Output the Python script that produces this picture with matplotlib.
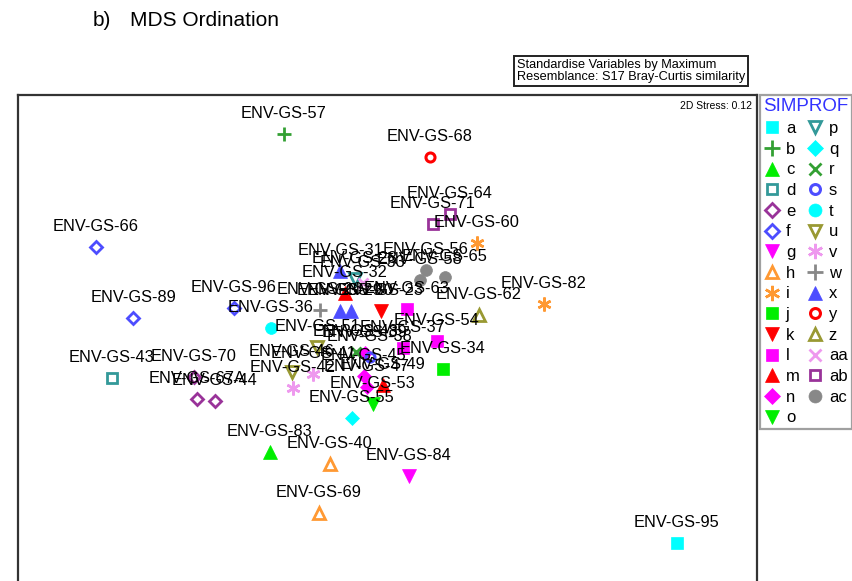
import matplotlib
matplotlib.use("Agg")
import matplotlib.pyplot as plt
from matplotlib.lines import Line2D

plt.rcParams['font.family'] = ['Liberation Sans', 'DejaVu Sans']

# --- MDS ordination scores (MDS1, MDS2) with sample names and SIMPROF groups ---
samples = [
    "ENV-GS-95", "ENV-GS-57", "ENV-GS-83", "ENV-GS-43", "ENV-GS-70", "ENV-GS-67A",
    "ENV-GS-44", "ENV-GS-66", "ENV-GS-89", "ENV-GS-96", "ENV-GS-84", "ENV-GS-40",
    "ENV-GS-69", "ENV-GS-82", "ENV-GS-60", "ENV-GS-34", "ENV-GS-23", "ENV-GS-63",
    "ENV-GS-54", "ENV-GS-37", "ENV-GS-49", "ENV-GS-32", "ENV-GS-39", "ENV-GS-45",
    "ENV-GS-47", "ENV-GS-53", "ENV-GS-28", "ENV-GS-55", "ENV-GS-48", "ENV-GS-38",
    "ENV-GS-36", "ENV-GS-51", "ENV-GS-46", "ENV-GS-42", "ENV-GS-41", "ENV-GS-26",
    "ENV-GS-31", "ENV-GS-29", "ENV-GS-30", "ENV-GS-68", "ENV-GS-62", "ENV-GS-33",
    "ENV-GS-64", "ENV-GS-71", "ENV-GS-56", "ENV-GS-58", "ENV-GS-65",
]
groups = [
    "a", "b", "c", "d", "e", "e",
    "e", "f", "f", "f", "g", "h",
    "h", "i", "i", "j", "k", "l",
    "l", "l", "m", "m", "n", "n",
    "n", "o", "p", "q", "r", "s",
    "t", "u", "u", "v", "v", "w",
    "x", "x", "x", "y", "z", "aa",
    "ab", "ab", "ac", "ac", "ac",
]
mds1 = [
    2.77, -1.16, -1.30, -2.88, -2.06, -2.03,
    -1.85, -3.04, -2.67, -1.66, 0.09, -0.70,
    -0.81, 1.44, 0.77, 0.43, -0.19, 0.07,
    0.37, 0.03, -0.17, -0.55, -0.35, -0.36,
    -0.33, -0.27, -0.45, -0.48, -0.44, -0.30,
    -1.29, -0.83, -1.08, -1.07, -0.87, -0.80,
    -0.60, -0.60, -0.49, 0.30, 0.79, -0.37,
    0.50, 0.33, 0.26, 0.20, 0.45,
]
mds2 = [
    -2.43, 1.66, -1.52, -0.78, -0.77, -0.99,
    -1.01, 0.53, -0.18, -0.08, -1.76, -1.64,
    -2.13, -0.04, 0.57, -0.69, -0.11, -0.09,
    -0.41, -0.48, -0.85, 0.07, -0.53, -0.76,
    -0.87, -1.04, 0.21, -1.18, -0.52, -0.57,
    -0.28, -0.47, -0.72, -0.88, -0.74, -0.10,
    0.29, -0.11, -0.11, 1.43, -0.15, 0.17,
    0.86, 0.76, 0.30, 0.20, 0.23,
]
group_order = ["a", "b", "c", "d", "e", "f", "g", "h", "i", "j", "k", "l", "m", "n", "o",
               "p", "q", "r", "s", "t", "u", "v", "w", "x", "y", "z", "aa", "ab", "ac"]
stress = 0.12

# --- symbol styles for each SIMPROF group ---
CYAN, GREEN, LGREEN, TEAL = "#00FFFF", "#33A033", "#00EE00", "#339999"
PURPLE, BLUE, MAGENTA, ORANGE = "#993399", "#4D4DFF", "#FF00FF", "#FF9933"
RED, OLIVE, PINK, GRAY = "#FF0000", "#999933", "#EE99EE", "#888888"
ASTER = (6, 2, 0)


def filled(marker, color, ms):
    return dict(marker=marker, mfc=color, mec=color, ms=ms, mew=0.5)


def hollow(marker, color, ms, mew=2.0):
    return dict(marker=marker, mfc="none", mec=color, ms=ms, mew=mew)


def lined(marker, color, ms, mew=2.0):
    return dict(marker=marker, mfc=color, mec=color, ms=ms, mew=mew)


styles = {
    "a": filled("s", CYAN, 8.5),
    "b": lined("+", GREEN, 10),
    "c": filled("^", LGREEN, 9.5),
    "d": hollow("s", TEAL, 6.5),
    "e": hollow("D", PURPLE, 6.5),
    "f": hollow("D", BLUE, 6.5),
    "g": filled("v", MAGENTA, 9.5),
    "h": hollow("^", ORANGE, 8),
    "i": lined(ASTER, ORANGE, 10, 1.8),
    "j": filled("s", LGREEN, 8.5),
    "k": filled("v", RED, 9.5),
    "l": filled("s", MAGENTA, 8.5),
    "m": filled("^", RED, 9.5),
    "n": filled("D", MAGENTA, 7.5),
    "o": filled("v", LGREEN, 9.5),
    "p": hollow("v", TEAL, 8),
    "q": filled("D", CYAN, 7.5),
    "r": lined("x", GREEN, 7.5),
    "s": hollow("o", BLUE, 6.5, 2.2),
    "t": filled("o", CYAN, 8.5),
    "u": hollow("v", OLIVE, 8),
    "v": lined(ASTER, PINK, 10, 1.8),
    "w": lined("+", GRAY, 10),
    "x": filled("^", BLUE, 9.5),
    "y": hollow("o", RED, 6.5, 2.2),
    "z": hollow("^", OLIVE, 8),
    "aa": lined("x", PINK, 7.5),
    "ab": hollow("s", PURPLE, 6.5),
    "ac": filled("o", GRAY, 8.5),
}

W, H = 853, 581
fig = plt.figure(figsize=(W / 100, H / 100), dpi=100)

# plot frame (runs off the bottom of the page)
ax = fig.add_axes([18 / W, 1 - 600 / H, (757 - 18) / W, (600 - 95) / H])
ax.set_xlim(-3.82, 3.57)
ax.set_ylim(-3.00, 2.05)
ax.set_xticks([])
ax.set_yticks([])
for sp in ax.spines.values():
    sp.set_color("#333333")
    sp.set_linewidth(1.6)

for name, g, x, y in zip(samples, groups, mds1, mds2):
    ax.plot([x], [y], linestyle="none", zorder=2, clip_on=False, **styles[g])
for name, g, x, y in zip(samples, groups, mds1, mds2):
    ax.annotate(name, (x, y), xytext=(0, 14.5), textcoords="offset points",
                ha="center", va="center", fontsize=11.8, color="black", zorder=3)

ax.text(0.9932, 0.978, f"2D Stress: {stress:.2f}", transform=ax.transAxes,
        ha="right", va="center", fontsize=7.5)

# title
fig.text(93 / W, 1 - 20 / H, "b)", fontsize=15, va="center", ha="left")
fig.text(130 / W, 1 - 20 / H, "MDS Ordination", fontsize=15, va="center", ha="left")

# analysis notes box
fig.text(517 / W, 1 - 71 / H,
         "Standardise Variables by Maximum\nResemblance: S17 Bray-Curtis similarity",
         fontsize=9.2, ha="left", va="center", linespacing=1.05,
         bbox=dict(boxstyle="square,pad=0.2", fc="white", ec="#222222", lw=1.4))

# SIMPROF legend
handles = [Line2D([], [], linestyle="none", **styles[g]) for g in group_order]
leg = fig.legend(handles, group_order, ncol=2, loc="upper left",
                 bbox_to_anchor=(760 / W, 1 - 95 / H), borderaxespad=0,
                 title="SIMPROF", alignment="left", fontsize=12,
                 title_fontproperties={"size": 13.5},
                 frameon=True, fancybox=False, edgecolor="#888888",
                 handlelength=1.0, handletextpad=0.35, columnspacing=0.4,
                 labelspacing=0.34, borderpad=0.2, markerscale=1.1)
leg.get_title().set_color("#3333FF")
leg.get_frame().set_linewidth(1.6)

fig.savefig("out.png", dpi=100)
